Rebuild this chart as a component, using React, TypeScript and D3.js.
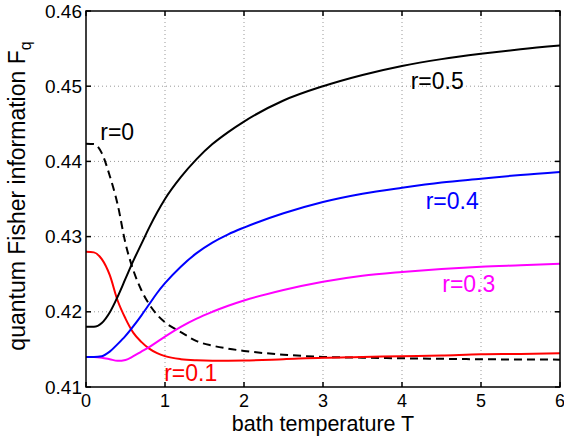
import React from 'react';
import * as d3 from 'd3';

// bath temperature samples
const temps = [0, 0.1, 0.2, 0.3, 0.4, 0.5, 0.6, 0.7, 0.8, 0.9, 1.0, 1.2, 1.4, 1.6, 1.8, 2.0, 2.5, 3, 3.5, 4, 4.5, 5, 5.5, 6];

const fqR0 = [0.44236, 0.4423, 0.4411, 0.4381, 0.4343, 0.4291, 0.4255, 0.4229, 0.4210, 0.4196, 0.4186, 0.4173, 0.4161, 0.4155, 0.4151, 0.4148, 0.4143, 0.4140, 0.4139, 0.41382, 0.41375, 0.41369, 0.41366, 0.41364];
const fqR01 = [0.4280, 0.4279, 0.4270, 0.4249, 0.4215, 0.4191, 0.4172, 0.4160, 0.4151, 0.4145, 0.4141, 0.4137, 0.41355, 0.4135, 0.4135, 0.41352, 0.4137, 0.4139, 0.4140, 0.4141, 0.4142, 0.41435, 0.4144, 0.4145];
const fqR03 = [0.4140, 0.4140, 0.4139, 0.4137, 0.41348, 0.4136, 0.4141, 0.4147, 0.4153, 0.4160, 0.4167, 0.4180, 0.4191, 0.4200, 0.4208, 0.4215, 0.4229, 0.4240, 0.4248, 0.4253, 0.4257, 0.4260, 0.4262, 0.4264];
const fqR04 = [0.4140, 0.4140, 0.4141, 0.4147, 0.4157, 0.4168, 0.4181, 0.4195, 0.4210, 0.4225, 0.4238, 0.4260, 0.4278, 0.4292, 0.4303, 0.4312, 0.4331, 0.4346, 0.4357, 0.4365, 0.4372, 0.4377, 0.4382, 0.4386];
const fqR05 = [0.4180, 0.4180, 0.4185, 0.4199, 0.4220, 0.4244, 0.4268, 0.4290, 0.4312, 0.4332, 0.4350, 0.4379, 0.4403, 0.4423, 0.4439, 0.4453, 0.4481, 0.4500, 0.4515, 0.4527, 0.4536, 0.4543, 0.4549, 0.4554];

const xTicks = [0, 1, 2, 3, 4, 5, 6];
const yTicks = [0.41, 0.42, 0.43, 0.44, 0.45, 0.46];

// curve labels
const labelText = ['r=0', 'r=0.1', 'r=0.3', 'r=0.4', 'r=0.5'];
const labelT = [0.18, 0.99, 4.51, 4.3, 4.11];
const labelFq = [0.4428, 0.4108, 0.42267, 0.43369, 0.44969];

const W = 564;
const H = 436;
const margin = { left: 86, right: 4, top: 11, bottom: 49 };
const font = 'Liberation Sans, Arial, Helvetica, sans-serif';

export default function App() {
  const x = d3.scaleLinear().domain([0, 6]).range([margin.left, W - margin.right]);
  const y = d3.scaleLinear().domain([0.41, 0.46]).range([H - margin.bottom, margin.top]);

  const series = [
    { values: fqR0, color: '#000000', dash: '8,5' },
    { values: fqR01, color: '#ff0000', dash: null },
    { values: fqR03, color: '#ff00ff', dash: null },
    { values: fqR04, color: '#0000ff', dash: null },
    { values: fqR05, color: '#000000', dash: null },
  ];
  const labelColor = ['#000000', '#ff0000', '#ff00ff', '#0000ff', '#000000'];

  const line = d3
    .line<number>()
    .x((_, i) => x(temps[i]))
    .y(d => y(d))
    .curve(d3.curveMonotoneX);

  const [x0, x1] = x.range();
  const [y0, y1] = y.range();

  return (
    <svg width={W} height={H} style={{ display: 'block', position: 'absolute', left: 0, top: 0 }}>
      <rect width={W} height={H} fill="#fff" />
      {/* grid */}
      <g stroke="#999" strokeWidth={1} strokeDasharray="1,3">
        {xTicks.slice(1, -1).map(t => (
          <line key={'gx' + t} x1={x(t)} x2={x(t)} y1={y0} y2={y1} />
        ))}
        {yTicks.slice(1, -1).map(t => (
          <line key={'gy' + t} x1={x0} x2={x1} y1={y(t)} y2={y(t)} />
        ))}
      </g>
      {/* curves */}
      <g fill="none" strokeWidth={2}>
        {series.map((s, i) => (
          <path key={i} d={line(s.values) || ''} stroke={s.color} strokeDasharray={s.dash || undefined} />
        ))}
      </g>
      {/* axes box and inward ticks */}
      <g stroke="#000" strokeWidth={1.5}>
        <rect x={x0} y={y1} width={x1 - x0} height={y0 - y1} fill="none" />
        {xTicks.map(t => (
          <g key={'tx' + t}>
            <line x1={x(t)} x2={x(t)} y1={y0} y2={y0 - 5} />
            <line x1={x(t)} x2={x(t)} y1={y1} y2={y1 + 5} />
          </g>
        ))}
        {yTicks.map(t => (
          <g key={'ty' + t}>
            <line x1={x0} x2={x0 + 5} y1={y(t)} y2={y(t)} />
            <line x1={x1} x2={x1 - 5} y1={y(t)} y2={y(t)} />
          </g>
        ))}
      </g>
      {/* tick labels */}
      <g fontFamily={font} fontSize={19} fill="#000">
        {xTicks.map(t => (
          <text key={'lx' + t} x={x(t)} y={y0 + 20} fontSize={18} textAnchor="middle">
            {d3.format('d')(t)}
          </text>
        ))}
        {yTicks.map(t => (
          <text key={'ly' + t} x={x0 - 4} y={y(t)} dy="0.35em" textAnchor="end">
            {d3.format('.2f')(t)}
          </text>
        ))}
      </g>
      {/* axis titles */}
      <text x={(x0 + x1) / 2} y={431} textAnchor="middle" fontFamily={font} fontSize={21.5}>
        bath temperature T
      </text>
      <text
        transform={`translate(25,${(y0 + y1) / 2 - 3}) rotate(-90)`}
        textAnchor="middle"
        fontFamily={font}
        fontSize={23}
      >
        quantum Fisher information F
        <tspan fontSize={16} dy={6}>q</tspan>
      </text>
      {/* curve labels */}
      <g fontFamily={font} fontSize={23}>
        {labelText.map((t, i) => (
          <text key={t} x={x(labelT[i])} y={y(labelFq[i])} fill={labelColor[i]}>
            {t}
          </text>
        ))}
      </g>
    </svg>
  );
}
